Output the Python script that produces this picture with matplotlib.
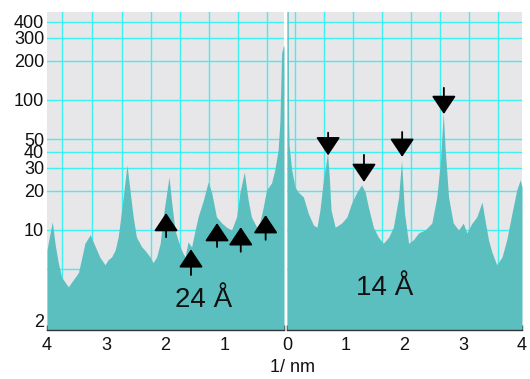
import matplotlib
matplotlib.use("Agg")
import matplotlib.pyplot as plt

plt.rcParams['font.family'] = ['Liberation Sans', 'DejaVu Sans']

# ---- data ----
left_q = [4.00, 3.98, 3.91, 3.865, 3.81, 3.75, 3.70, 3.64, 3.58, 3.53, 3.47, 3.41, 3.36,
          3.27, 3.22, 3.16, 3.11, 3.02, 2.97, 2.91, 2.85, 2.80, 2.74, 2.68, 2.65, 2.60,
          2.545, 2.49, 2.40, 2.35, 2.26, 2.21, 2.15, 2.09, 2.04, 1.98, 1.94, 1.90, 1.84,
          1.79, 1.73, 1.67, 1.62, 1.56, 1.50, 1.45, 1.36, 1.28, 1.22, 1.14, 1.05, 0.97,
          0.885, 0.80, 0.745, 0.67, 0.605, 0.55, 0.46, 0.41, 0.35, 0.295, 0.21, 0.155,
          0.10, 0.07, 0.04, 0.01, 0.00]
left_v = [7.0, 7.9, 11.6, 7.9, 5.6, 4.3, 4.0, 3.65, 4.0, 4.3, 4.7, 6.2, 7.9,
          9.2, 8.1, 7.0, 6.2, 5.4, 5.9, 6.2, 7.0, 8.8, 14.2, 24.3, 31.6, 20.3,
          12.6, 8.8, 7.4, 7.0, 6.2, 5.6, 6.2, 7.9, 12.6, 19.3, 25.6, 17.0, 10.0,
          8.4, 7.0, 6.2, 8.1, 7.4, 10.0, 12.6, 17.0, 23.4, 19.3, 12.6, 11.3, 10.5,
          10.0, 12.6, 19.3, 27.9, 17.0, 12.6, 10.5, 11.3, 15.0, 20.3, 23.0, 29.0,
          41.2, 66.5, 230.0, 260.0, 260.0]

right_q = [0.00, 0.02, 0.028, 0.035, 0.08, 0.136, 0.19, 0.28, 0.36, 0.45, 0.51, 0.56, 0.62,
           0.69, 0.72, 0.75, 0.82, 0.93, 1.02, 1.10, 1.19, 1.27, 1.33, 1.385, 1.47, 1.555,
           1.64, 1.73, 1.81, 1.90, 1.95, 2.00, 2.07, 2.15, 2.24, 2.35, 2.465, 2.55, 2.61,
           2.66, 2.69, 2.75, 2.83, 2.92, 3.00, 3.06, 3.15, 3.23, 3.32, 3.37, 3.43, 3.49,
           3.57, 3.66, 3.74, 3.83, 3.91, 3.97, 4.00]
right_v = [600.0, 600.0, 70.0, 45.0, 29.0, 21.4, 19.6, 17.9, 13.5, 10.9, 10.5, 14.2, 24.3,
           39.0, 25.6, 14.2, 10.5, 11.3, 12.6, 16.1, 19.6, 22.2, 19.6, 15.0, 10.5, 8.8,
           7.9, 8.8, 10.5, 17.9, 34.5, 13.5, 7.9, 8.4, 9.5, 10.0, 11.3, 17.9, 32.7,
           79.4, 43.5, 17.9, 11.3, 10.0, 11.3, 9.5, 11.3, 12.6, 16.4, 11.9, 8.4, 6.7,
           5.4, 6.2, 8.4, 13.5, 20.3, 24.3, 21.4]

# arrows: position, tip value, tail value
left_arrow_q = [1.99, 1.57, 1.13, 0.73, 0.31]
left_arrow_tip = [13.5, 7.1, 11.3, 10.5, 13.0]
left_arrow_tail = [8.8, 4.5, 7.4, 6.8, 8.4]
right_arrow_q = [0.70, 1.31, 1.96, 2.67]
right_arrow_tip = [37.5, 23.4, 36.5, 78.0]
right_arrow_tail = [56.0, 37.8, 56.7, 124.0]

y_ticks = [2, 10, 20, 30, 40, 50, 100, 200, 300, 400]
y_grid = [5, 10, 20, 30, 40, 50, 100, 200, 300, 400]
x_major = [0, 1, 2, 3, 4]
x_minor = [0.5, 1.5, 2.5, 3.5]
left_vgrid = [3.74, 3.24, 2.74, 2.25, 1.76, 1.27, 0.78, 0.29]
right_vgrid = [0.14, 0.63, 1.12, 1.62, 2.11, 2.61, 3.10, 3.59]

BG = '#e7e7ea'
FILL = '#5cbfbf'
GRID = '#3ff0f0'
YMIN, YMAX = 1.70, 475

W, H = 530, 379
fig = plt.figure(figsize=(W / 100, H / 100), dpi=100)
axL = fig.add_axes([47 / W, 1 - 330 / H, (284 - 47) / W, (330 - 12) / H])
axR = fig.add_axes([287 / W, 1 - 330 / H, (522 - 287) / W, (330 - 12) / H])

for ax, q, v, vg in [(axL, left_q, left_v, left_vgrid), (axR, right_q, right_v, right_vgrid)]:
    ax.set_facecolor(BG)
    ax.set_yscale('log')
    ax.set_ylim(YMIN, YMAX)
    for g in y_grid:
        ax.axhline(g, color=GRID, lw=1.0, zorder=1)
    for g in vg:
        ax.axvline(g, color=GRID, lw=1.0, zorder=1)
    ax.fill_between(q, YMIN, v, color=FILL, lw=0, zorder=2)
    for s in ['left', 'right', 'top']:
        ax.spines[s].set_visible(False)
    ax.spines['bottom'].set_color('#333333')
    ax.spines['bottom'].set_linewidth(1.0)
    ax.spines['bottom'].set_zorder(3)
    ax.set_xticks(x_major)
    ax.set_xticks(x_minor, minor=True)
    ax.tick_params(axis='x', which='both', direction='in', length=3.5, width=1,
                   color='#333333', labelsize=13, pad=5, labelcolor='#111111')
    ax.tick_params(axis='y', which='both', length=0)
    ax.yaxis.set_minor_locator(matplotlib.ticker.NullLocator())

axL.set_xlim(4, 0)
axR.set_xlim(0, 4)
axL.set_xticklabels(['0', '1', '2', '3', '4'])
axL.get_xticklabels()[0].set_visible(False)
axR.set_xticklabels(['0', '1', '2', '3', '4'])

axL.set_yticks(y_ticks)
axL.set_yticklabels([str(t) for t in y_ticks])
axL.tick_params(axis='y', labelsize=13, pad=2, labelcolor='#111111')
axR.set_yticks([])

arrow_kw = dict(arrowstyle='-|>,head_length=0.42,head_width=0.28', mutation_scale=27,
                color='black', lw=1.3, shrinkA=0, shrinkB=0)
for q, t, s in zip(left_arrow_q, left_arrow_tip, left_arrow_tail):
    axL.annotate('', xy=(q, t), xytext=(q, s), arrowprops=arrow_kw, zorder=5)
for q, t, s in zip(right_arrow_q, right_arrow_tip, right_arrow_tail):
    axR.annotate('', xy=(q, t), xytext=(q, s), arrowprops=arrow_kw, zorder=5)

axL.text(1.35, 2.56, '24 Å', fontsize=20, ha='center', va='baseline', color='#111111', zorder=6)
axR.text(1.67, 3.16, '14 Å', fontsize=20, ha='center', va='baseline', color='#111111', zorder=6)

fig.text(292 / W, 1 - 368 / H, '1/ nm', fontsize=13, ha='center', va='center', color='#111111')

fig.savefig('out.png', dpi=100)
